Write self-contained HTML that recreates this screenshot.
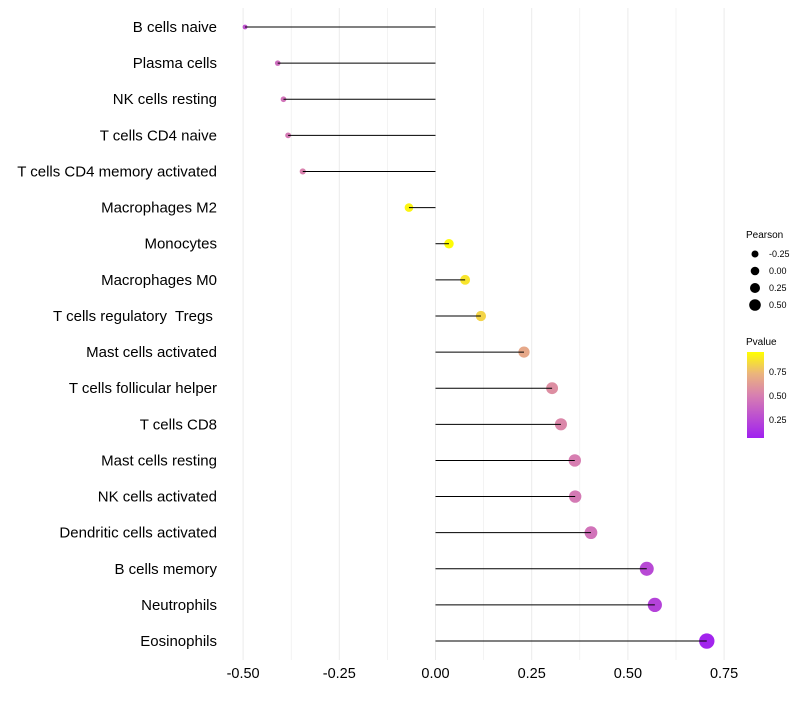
<!DOCTYPE html>
<html><head><meta charset="utf-8"><style>
body{margin:0;background:#fff;font-family:"Liberation Sans",sans-serif;}
text{white-space:pre;}
</style></head><body>
<svg id="chart" width="800" height="700" xmlns="http://www.w3.org/2000/svg">
<defs><linearGradient id="pg" x1="0" y1="1" x2="0" y2="0">
<stop offset="0" stop-color="#a020f0"/><stop offset="0.5" stop-color="#d880b0"/><stop offset="0.75" stop-color="#ebb57c"/><stop offset="1" stop-color="#ffff00"/></linearGradient></defs>
<g id="grid"></g><g id="marks"></g><g id="labels"></g>
<g font-size="9" fill="#000">
<text x="746" y="238" font-size="10">Pearson</text>
<circle cx="755" cy="254" r="3.5"/><text x="769" y="257">-0.25</text>
<circle cx="755" cy="271" r="4.3"/><text x="769" y="274">0.00</text>
<circle cx="755" cy="288" r="5"/><text x="769" y="291">0.25</text>
<circle cx="755" cy="305" r="5.8"/><text x="769" y="308">0.50</text>
</g>
<g font-size="9" fill="#000">
<text x="746" y="345" font-size="10">Pvalue</text>
<rect x="747" y="352" width="17" height="86" fill="url(#pg)"/>
<text x="769" y="375">0.75</text><text x="769" y="399">0.50</text><text x="769" y="423">0.25</text>
</g>
</svg>
<script>
const categories=["B cells naive","Plasma cells","NK cells resting","T cells CD4 naive","T cells CD4 memory activated","Macrophages M2","Monocytes","Macrophages M0","T cells regulatory  Tregs ","Mast cells activated","T cells follicular helper","T cells CD8","Mast cells resting","NK cells activated","Dendritic cells activated","B cells memory","Neutrophils","Eosinophils"];
const pearson=[-0.495,-0.41,-0.395,-0.383,-0.345,-0.069,0.035,0.077,0.118,0.23,0.303,0.326,0.362,0.363,0.404,0.549,0.57,0.705];
const pvalue=[0.3,0.42,0.45,0.48,0.52,0.93,0.95,0.88,0.83,0.68,0.57,0.54,0.5,0.48,0.45,0.25,0.22,0.08];
const xTicks=[-0.5,-0.25,0,0.25,0.5,0.75];
const NS="http://www.w3.org/2000/svg";
const x=v=>435.5+v*384.8;
const y=i=>27+i*36.12;
const r=v=>Math.max(1.8,4.6+v*4.4);
function lerp(a,b,t){return a.map((c,k)=>Math.round(c+(b[k]-c)*t));}
function col(p){const t=Math.min(1,Math.max(0,(p-0.06)/0.9));
const s=[[0,[160,32,240]],[0.5,[216,128,176]],[0.75,[235,181,124]],[1,[255,255,0]]];
for(let k=1;k<s.length;k++){if(t<=s[k][0]){const u=(t-s[k-1][0])/(s[k][0]-s[k-1][0]);const c=lerp(s[k-1][1],s[k][1],u);return `rgb(${c})`;}}return "rgb(255,255,0)";}
function mk(tag,at,parent){const e=document.createElementNS(NS,tag);for(const k in at)e.setAttribute(k,at[k]);parent.appendChild(e);return e;}
const grid=document.getElementById('grid'),marks=document.getElementById('marks'),labels=document.getElementById('labels');
for(let v=-0.5;v<=0.751;v+=0.125){const g=mk('line',{x1:x(v),x2:x(v),y1:8,y2:660,stroke:'#ebebeb','stroke-width':Math.abs(v*4-Math.round(v*4))<1e-6?1:0.6},grid);

}
xTicks.forEach(v=>{const t=mk('text',{x:x(v),y:678,'text-anchor':'middle','font-size':14.5,fill:'#000'},labels);t.textContent=v.toFixed(2);

});
categories.forEach((c,i)=>{
const t=mk('text',{x:217,y:y(i)+5,'text-anchor':'end','font-size':15,fill:'#000'},labels);t.textContent=c;


const d=mk('circle',{cx:x(pearson[i]),cy:y(i),r:r(pearson[i]),fill:col(pvalue[i])},marks);


const l=mk('line',{x1:x(0),x2:x(pearson[i]),y1:y(i),y2:y(i),stroke:'#000','stroke-width':1},marks);


});
</script>
</body></html>
